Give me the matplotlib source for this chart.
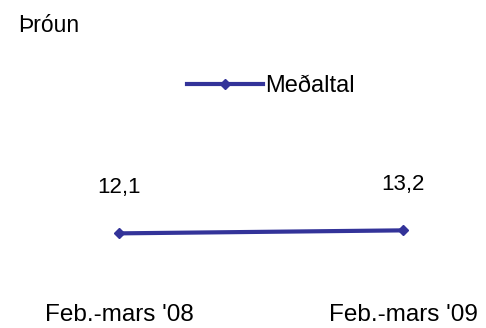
import matplotlib.pyplot as plt

plt.rcParams['font.family'] = ['Liberation Sans', 'DejaVu Sans']

periods = ["Feb.-mars '08", "Feb.-mars '09"]
values = [12.1, 13.2]
value_labels = ['12,1', '13,2']
series_name = 'Meðaltal'
color = '#333399'

fig = plt.figure(figsize=(4.86, 3.28), dpi=100)
# axes spans pixel rows 100..280 from top
ax = fig.add_axes([0, 48 / 328, 1, 180 / 328])
x = range(len(values))
line, = ax.plot(x, values, color=color, linewidth=3, marker='D', markersize=5,
                label=series_name)
ax.set_xlim(-119 / 284, 1 + 83 / 284)
ax.set_ylim(-5.0, 61.0)

for xi, v, lab in zip(x, values, value_labels):
    ax.annotate(lab, (xi, v), xytext=(0, 46), textcoords='offset pixels',
                ha='center', va='center', fontsize=16)

ax.set_xticks(list(x))
ax.set_xticklabels(periods, fontsize=17.5)
ax.tick_params(axis='x', length=0, pad=17)
ax.set_yticks([])
for s in ax.spines.values():
    s.set_visible(False)

fig.legend(handles=[line], labels=[series_name], loc='center left',
           bbox_to_anchor=(178 / 486, 1 - 86 / 328), frameon=False,
           fontsize=17, handlelength=3.2, handletextpad=0.1, borderaxespad=0)

fig.text(18 / 486, 1 - 26 / 328, 'Þróun', fontsize=16.5, ha='left', va='center')

fig.savefig('out.png', dpi=100)
